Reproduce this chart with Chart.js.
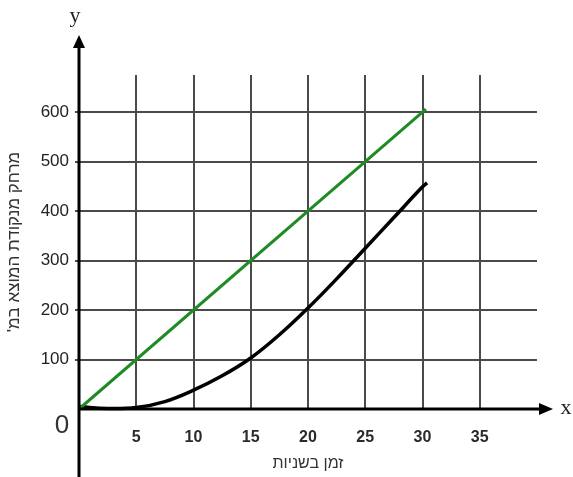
<!DOCTYPE html>
<html>
<head>
<meta charset="utf-8">
<script src="https://cdn.jsdelivr.net/npm/chart.js@4"></script>
<style>
  html, body { margin: 0; padding: 0; background: #fff; }
  #wrap { width: 573px; height: 477px; }
</style>
</head>
<body>
<div id="wrap"><canvas id="myChart" dir="rtl"></canvas></div>
<script>
// נתונים
var xTicks = [5, 10, 15, 20, 25, 30, 35];
var yTicks = [100, 200, 300, 400, 500, 600];

var greenX = [0, 30.3];
var greenY = [0, 606];

var blackX = [0, 2.5, 5, 7.5, 10, 12.5, 15, 17.5, 20, 22.5, 25, 27.5, 30, 30.4];
var blackY = [5, 1, 3, 15, 38, 67, 103, 150, 204, 263, 325, 387, 449, 457];

function toPoints(xs, ys) {
  return xs.map(function (x, i) { return { x: x, y: ys[i] }; });
}

// ציר עם חצים
var axesPlugin = {
  id: 'arrowAxes',
  afterDatasetsDraw: function (chart) {
    var c = chart.ctx;
    var x0 = chart.scales.x.getPixelForValue(0);
    var y0 = chart.scales.y.getPixelForValue(0);
    c.save();
    c.strokeStyle = '#000';
    c.fillStyle = '#000';
    c.lineWidth = 3;
    // y axis
    c.beginPath();
    c.moveTo(x0, chart.height);
    c.lineTo(x0, 44);
    c.stroke();
    c.beginPath();
    c.moveTo(x0, 35);
    c.lineTo(x0 - 6, 48);
    c.lineTo(x0 + 6, 48);
    c.closePath();
    c.fill();
    // x axis
    c.beginPath();
    c.moveTo(x0, y0);
    c.lineTo(544, y0);
    c.stroke();
    c.beginPath();
    c.moveTo(553, y0);
    c.lineTo(539, y0 - 6);
    c.lineTo(539, y0 + 6);
    c.closePath();
    c.fill();
    // labels
    c.fillStyle = '#222';
    c.font = '22px "Liberation Serif"';
    c.textAlign = 'center';
    c.textBaseline = 'middle';
    c.fillText('y', 75, 16);
    c.fillText('x', 566, 408);
    c.fillStyle = '#333';
    c.font = '26px "Liberation Sans"';
    c.fillText('0', 62, 426);
    c.restore();
  }
};

var ctx = document.getElementById('myChart').getContext('2d');
var myChart = new Chart(ctx, {
  type: 'scatter',
  data: {
    datasets: [
      {
        data: toPoints(greenX, greenY),
        showLine: true,
        borderColor: '#1f8b24',
        borderWidth: 3,
        pointRadius: 0,
        clip: false
      },
      {
        data: toPoints(blackX, blackY),
        showLine: true,
        borderColor: '#000',
        borderWidth: 3.5,
        pointRadius: 0,
        tension: 0.4,
        clip: false
      }
    ]
  },
  plugins: [axesPlugin],
  options: {
    responsive: true,
    maintainAspectRatio: false,
    animation: false,
    layout: { padding: { left: 0, top: 75, right: 36, bottom: 0 } },
    plugins: {
      legend: { display: false },
      tooltip: { enabled: false }
    },
    scales: {
      x: {
        type: 'linear',
        min: 0,
        max: 40,
        afterBuildTicks: function (s) {
          s.ticks = xTicks.map(function (v) { return { value: v }; });
        },
        afterFit: function (s) { s.height = 68; },
        border: { display: false },
        grid: { color: '#4a4a4a', lineWidth: 2, drawTicks: false },
        ticks: {
          padding: 19,
          color: '#2a2a2a',
          font: { family: '"Liberation Sans", Arial', size: 16, weight: 'bold' }
        },
        title: {
          display: true,
          text: 'זמן בשניות',
          color: '#333',
          padding: { top: 4, bottom: 4 },
          font: { family: '"Liberation Sans", Arial', size: 16 }
        }
      },
      y: {
        type: 'linear',
        min: 0,
        max: 675,
        afterBuildTicks: function (s) {
          s.ticks = yTicks.map(function (v) { return { value: v }; });
        },
        afterFit: function (s) { s.width = 79; },
        border: { display: false },
        grid: { color: '#4a4a4a', lineWidth: 2, tickLength: 4 },
        ticks: {
          padding: 6,
          color: '#222',
          font: { family: '"Liberation Sans", Arial', size: 17 }
        },
        title: {
          display: true,
          text: "מרחק מנקודת המוצא במ'",
          color: '#333',
          padding: { top: 4, bottom: 4 },
          font: { family: '"Liberation Sans", Arial', size: 17 }
        }
      }
    }
  }
});
</script>
</body>
</html>
